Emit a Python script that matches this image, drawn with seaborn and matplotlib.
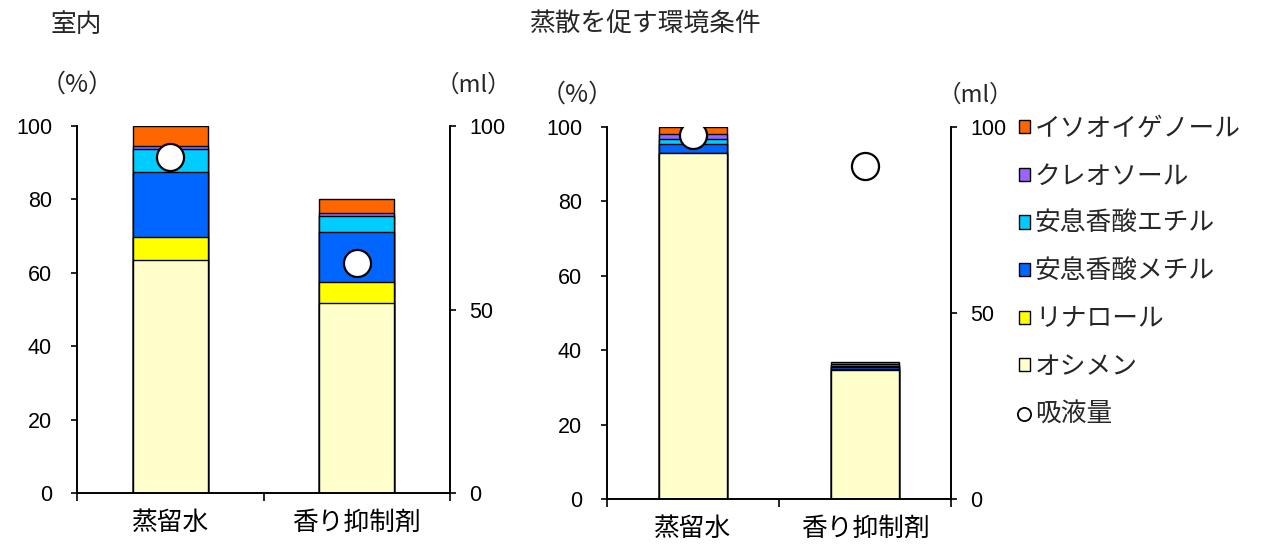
import numpy as np
import seaborn as sns
import matplotlib.pyplot as plt
from matplotlib.patches import Patch
from matplotlib.lines import Line2D

# data
categories = ['蒸留水', '香り抑制剤']
components = ['オシメン', 'リナロール', '安息香酸メチル', '安息香酸エチル', 'クレオソール', 'イソオイゲノール']
colors = ['#FFFFCC', '#FFFF00', '#0066FF', '#00CCFF', '#9966FF', '#FF6600']

# 室内 (%)
indoor_ocimene = [63.5, 51.8]
indoor_linalool = [6.3, 5.7]
indoor_methyl = [17.7, 13.6]
indoor_ethyl = [6.2, 4.4]
indoor_creosol = [0.9, 0.8]
indoor_isoeugenol = [5.4, 3.7]
indoor_uptake = [91.6, 62.6]  # ml

# 蒸散を促す環境条件 (%)
trans_ocimene = [93.0, 34.7]
trans_linalool = [0.0, 0.2]
trans_methyl = [2.4, 0.5]
trans_ethyl = [1.4, 0.4]
trans_creosol = [1.3, 0.4]
trans_isoeugenol = [1.9, 0.5]
trans_uptake = [97.8, 89.5]  # ml

W, H = 1266, 544
CJK = ['Noto Sans CJK JP', 'DejaVu Sans']

sns.set_style("ticks")
plt.rcParams['font.family'] = ['Liberation Sans', 'Noto Sans CJK JP']
plt.rcParams['axes.edgecolor'] = 'black'
plt.rcParams['xtick.color'] = 'black'
plt.rcParams['ytick.color'] = 'black'

fig = plt.figure(figsize=(W / 100, H / 100), dpi=100)


def panel(rect, layers, uptake, left_ticks, right_ticks):
    ax = fig.add_axes(rect)
    ax2 = ax.twinx()
    cum = np.cumsum(np.array(layers), axis=0)
    # draw from the top layer down so each lower layer covers the one above
    for i in range(len(layers) - 1, -1, -1):
        sns.barplot(x=categories, y=cum[i], color=colors[i], saturation=1,
                    width=0.4, edgecolor='black', linewidth=1.0, ax=ax)
    sns.scatterplot(x=categories, y=uptake, ax=ax2, s=380, color='white',
                    edgecolor='black', linewidth=1.6, zorder=5)
    for a in (ax, ax2):
        a.set_ylim(0, 100)
        a.set_xlim(-0.5, 1.5)
        a.set_xlabel('')
        a.set_ylabel('')
        a.spines['top'].set_visible(False)
        for s in a.spines.values():
            s.set_linewidth(1.2)
    ax.set_yticks(left_ticks)
    ax2.set_yticks(right_ticks)
    ax.tick_params(axis='y', length=4, width=1.2, pad=14, labelsize=15.5)
    ax2.tick_params(axis='y', length=4, width=1.2, pad=10, labelsize=15.5)
    ax.set_xticks([-0.5, 0.5, 1.5])
    ax.set_xticklabels(['', '', ''])
    ax.set_xticks([0, 1], minor=True)
    ax.set_xticklabels(categories, minor=True, fontsize=18.5, family=CJK)
    ax.tick_params(axis='x', which='major', length=6, width=1.2)
    ax.tick_params(axis='x', which='minor', length=0, pad=12)
    return ax


panel([77 / W, 1 - 493 / H, (450 - 77) / W, (493 - 126) / H],
      [indoor_ocimene, indoor_linalool, indoor_methyl, indoor_ethyl, indoor_creosol, indoor_isoeugenol],
      indoor_uptake, [0, 20, 40, 60, 80, 100], [0, 50, 100])
panel([607 / W, 1 - 499 / H, (951 - 607) / W, (499 - 127) / H],
      [trans_ocimene, trans_linalool, trans_methyl, trans_ethyl, trans_creosol, trans_isoeugenol],
      trans_uptake, [0, 20, 40, 60, 80, 100], [0, 50, 100])

fig.text(50 / W, 1 - 25 / H, '室内', va='center', ha='left', fontsize=18.5, family=CJK)
fig.text(530 / W, 1 - 25 / H, '蒸散を促す環境条件', va='center', ha='left', fontsize=18.5, family=CJK)
fig.text(77 / W, 1 - 85 / H, '（%）', va='center', ha='center', fontsize=18, family=CJK)
fig.text(473 / W, 1 - 85 / H, '（ml）', va='center', ha='center', fontsize=17, family=CJK)
fig.text(577 / W, 1 - 95 / H, '（%）', va='center', ha='center', fontsize=18, family=CJK)
fig.text(975 / W, 1 - 95 / H, '（ml）', va='center', ha='center', fontsize=17, family=CJK)

handles = [Patch(facecolor=colors[i], edgecolor='black', linewidth=1.0)
           for i in range(len(components) - 1, -1, -1)]
labels = components[::-1]
handles.append(Line2D([], [], marker='o', ls='none', markerfacecolor='white',
                      markeredgecolor='black', markeredgewidth=1.3, markersize=9.5))
labels.append('吸液量')
fig.legend(handles, labels, loc='upper left', bbox_to_anchor=(1019 / W, 1 - 116 / H),
           frameon=False, prop={'family': CJK, 'size': 18.5}, labelspacing=0.84,
           handlelength=0.42, handleheight=0.42, handletextpad=0.2,
           borderaxespad=0, borderpad=0)

fig.savefig('out.png', dpi=100)
